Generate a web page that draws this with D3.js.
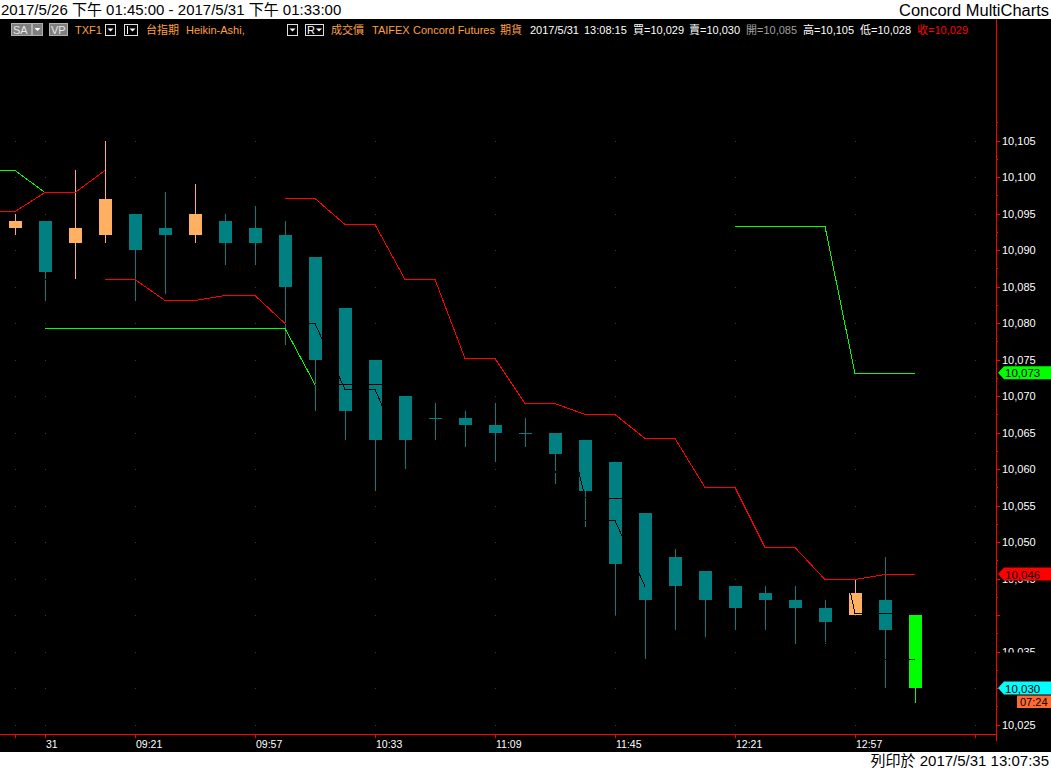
<!DOCTYPE html>
<html><head><meta charset="utf-8">
<script src="https://cdn.jsdelivr.net/npm/d3@7"></script>
<style>body{margin:0;background:#fff;overflow:hidden}svg{display:block}</style>
</head><body>
<svg id="c" width="1051" height="769"></svg>
<script>
// ---- data ----
const times = ["5/26 13:45","08:54","09:03","09:12","09:21","09:30","09:39","09:48","09:57","10:06","10:15","10:24","10:33","10:42","10:51","11:00","11:09","11:18","11:27","11:36","11:45","11:54","12:03","12:12","12:21","12:30","12:39","12:48","12:57","13:06","13:15"];
const open  = [10093,10094,10091,10092,10095,10093,10092,10094,10093,10092,10089,10082,10075,10070,10067,10067,10066,10065,10065,10064,10061,10054,10048,10046,10044,10043,10042,10041,10040,10042,10040];
const high  = [10095,10094,10101,10105,10095,10098,10099,10095,10096,10094,10089,10082,10075,10070,10069,10068,10069,10067,10065,10064,10061,10054,10049,10046,10044,10044,10044,10042,10045,10048,10040];
const low   = [10092,10083,10086,10091,10083,10084,10091,10088,10088,10077,10068,10064,10057,10060,10064,10063,10061,10063,10058,10052,10040,10034,10038,10037,10038,10038,10036,10036,10040,10030,10028];
const close = [10094,10087,10093,10097,10090,10092,10095,10091,10091,10085,10075,10068,10064,10064,10067,10066,10065,10065,10062,10057,10047,10042,10044,10042,10041,10042,10041,10039,10043,10038,10030];

// indicator lines, indexed from bar -1 to bar 30 (null = not drawn)
const N = null;
const redA   = [10095.3,10095.3,10098.0,10098.0,10101.0,N,N,N,N,N,N,N,N,N,N,N,N,N,N,N,N,N,N,N,N,N,N,N,N,N,N,N];
const greenA = [10101.0,10101.0,10098.0,N,N,N,N,N,N,N,N,N,N,N,N,N,N,N,N,N,N,N,N,N,N,N,N,N,N,N,N,N];
const redB   = [N,N,N,N,10086.0,10086.0,10083.2,10083.2,10083.9,10083.9,10080.0,N,N,N,N,N,N,N,N,N,N,N,N,N,N,N,N,N,N,N,N,N];
const greenB = [N,N,10079.3,10079.3,10079.3,10079.3,10079.3,10079.3,10079.3,10079.3,10079.3,10071.7,N,N,N,N,N,N,N,N,N,N,N,N,N,N,N,N,N,N,N,N];
const redC   = [N,N,N,N,N,N,N,N,N,N,10097.1,10097.1,10093.5,10093.5,10086.0,10086.0,10075.2,10075.2,10069.1,10069.1,10067.5,10067.5,10064.2,10064.2,10057.5,10057.5,10049.3,10049.3,10044.9,10044.9,10045.6,10045.6];
const greenC = [N,N,N,N,N,N,N,N,N,N,N,N,N,N,N,N,N,N,N,N,N,N,N,N,N,10093.3,10093.3,10093.3,10093.3,10073.2,10073.2,10073.2];
const blackA = [N,N,10086.0,10086.0,10086.0,N,N,N,N,N,10080.0,10080.0,10071.0,10071.0,10061.6,N,N,N,N,10073.4,10056.2,10056.0,10056.0,N,N,N,N,N,10059.2,10040.3,10040.3,10040.3];
const blackB = [N,N,N,N,N,N,N,N,N,N,N,10071.6,10071.6,10071.6,10071.6,N,N,N,N,10059.7,10053.0,10053.0,10044.0,N,N,N,N,N,10036.3,10035.2,10034.0,10034.0];

const tickIdx    = [0, 1, 4, 8, 12, 16, 20, 24, 28, 32];
const tickLabels = ["", "31", "09:21", "09:57", "10:33", "11:09", "11:45", "12:21", "12:57", ""];
const yTickVals  = [10025,10030,10035,10040,10045,10050,10055,10060,10065,10070,10075,10080,10085,10090,10095,10100,10105];
const hiddenYLabels = [10040, 10030];

const priceLabels = [
  {v: 10073.2, text: "10,073", fill: "#00ff00"},
  {v: 10045.6, text: "10,046", fill: "#ff0000"},
  {v: 10030,   text: "10,030", fill: "#00ffff"}
];

// ---- drawing ----
const FONT = "'Liberation Sans', Arial, 'Noto Sans CJK TC', sans-serif";
const svg = d3.select("#c").attr("font-family", FONT);
const x = d3.scaleLinear().domain([-0.5, 32.7]).range([0, 996]);
const y = d3.scaleLinear().domain([10105, 10025]).range([140.5, 724.5]);
const lineIdx = d3.range(-1, 31);
const defs = svg.append("defs");

svg.append("rect").attr("width",1051).attr("height",769).attr("fill","#fff");
svg.append("rect").attr("y",19).attr("width",1051).attr("height",733).attr("fill","#000");

// title strip
svg.append("text").attr("x",1).attr("y",15).attr("font-size",15).attr("fill","#000")
  .text("2017/5/26 下午 01:45:00 - 2017/5/31 下午 01:33:00");
svg.append("text").attr("x",1049).attr("y",15.5).attr("font-size",16).attr("fill","#000")
  .attr("text-anchor","end").attr("textLength",150).attr("lengthAdjust","spacingAndGlyphs")
  .text("Concord MultiCharts");
svg.append("text").attr("x",1049).attr("y",766).attr("font-size",15).attr("fill","#000")
  .attr("text-anchor","end").text("列印於 2017/5/31 13:07:35");

// grid dots
const gd = svg.append("g");
tickIdx.forEach(i => yTickVals.forEach(v => {
  gd.append("rect").attr("x", Math.round(x(i))).attr("y", Math.round(y(v)))
    .attr("width",1).attr("height",1).attr("fill","#0d5a0d");
}));

// candles
const bars = d3.range(open.length);
const col = i => i === open.length-1 ? "#00ff00" : (close[i] > open[i] ? "#ffb061" : "#008080");
const gc = svg.append("g").attr("shape-rendering","crispEdges");
gc.selectAll("line").data(bars).join("line")
  .attr("x1", i => x(i)+0.5).attr("x2", i => x(i)+0.5)
  .attr("y1", i => y(high[i])).attr("y2", i => y(low[i]))
  .attr("stroke", col).attr("stroke-width",1);
gc.selectAll("rect").data(bars).join("rect")
  .attr("x", i => x(i)-6).attr("width", 13)
  .attr("y", i => Math.round(y(Math.max(open[i],close[i]))))
  .attr("height", i => Math.max(1, Math.round(y(Math.min(open[i],close[i]))) - Math.round(y(Math.max(open[i],close[i])))))
  .attr("fill", col);

// indicator lines
const lineGen = d3.line().defined(d => d[1] != null).x(d => x(d[0])).y(d => Math.round(y(d[1]))+0.5);
const gl = svg.append("g").attr("fill","none").attr("shape-rendering","crispEdges");
[[blackA,"#000"],[blackB,"#000"],[greenA,"#00ff00"],[redA,"#ff0000"],[greenB,"#00ff00"],[redB,"#ff0000"],[redC,"#ff0000"],[greenC,"#00ff00"]]
 .forEach(([arr,c]) => {
   gl.append("path").datum(lineIdx.map((k,j) => [k, arr[j]])).attr("d", lineGen)
     .attr("stroke", c).attr("stroke-width",1);
 });

// axes
const ga = svg.append("g").attr("shape-rendering","crispEdges");
ga.append("line").attr("x1",0).attr("x2",997).attr("y1",734.5).attr("y2",734.5).attr("stroke","#ff0000");
ga.append("line").attr("x1",996.5).attr("x2",996.5).attr("y1",19).attr("y2",741).attr("stroke","#ff0000");
tickIdx.forEach((i,k) => {
  ga.append("line").attr("x1",x(i)+0.5).attr("x2",x(i)+0.5).attr("y1",734).attr("y2",738).attr("stroke","#ff0000");
  ga.append("text").attr("x",x(i)+1).attr("y",748).attr("font-size",10.5).attr("fill","#fff").text(tickLabels[k]);
});
const fmt = d3.format(",");
yTickVals.forEach(v => {
  const yy = Math.round(y(v))+0.5;
  ga.append("line").attr("x1",996).attr("x2",1000).attr("y1",yy).attr("y2",yy).attr("stroke","#ff0000");
  ga.append("line").attr("x1",996).attr("x2",998).attr("y1",Math.round(y(v+2.5))+0.5).attr("y2",Math.round(y(v+2.5))+0.5).attr("stroke","#ff0000");
  if (hiddenYLabels.includes(v)) return;
  const t = ga.append("text").attr("x",1002).attr("y",y(v)+4).attr("font-size",11).attr("fill","#fff").text(fmt(v));
  if (v === 10035) {
    defs.append("clipPath").attr("id","clip35").append("rect").attr("x",998).attr("y",640).attr("width",60).attr("height",y(v)+1-640);
    t.attr("clip-path","url(#clip35)");
  }
  if (v === 10045) {
    defs.append("clipPath").attr("id","clip45").append("rect").attr("x",998).attr("y",y(10045.6)+6.5).attr("width",60).attr("height",10);
    t.attr("clip-path","url(#clip45)");
  }
});

// price labels
const gp = svg.append("g");
priceLabels.forEach(p => {
  const yy = y(p.v);
  gp.append("path").attr("d", `M998,${yy} L1004,${yy-6.5} L1051,${yy-6.5} L1051,${yy+6.5} L1004,${yy+6.5} Z`).attr("fill", p.fill);
  gp.append("text").attr("x",1005).attr("y",yy+4.5).attr("font-size",11.5).attr("fill","#000").text(p.text);
});
gp.append("rect").attr("x",1017).attr("y",695.5).attr("width",34).attr("height",12.5).attr("fill","#ff6a33");
gp.append("text").attr("x",1020).attr("y",705.5).attr("font-size",11).attr("fill","#000").text("07:24");

// legend bar
const lg = svg.append("g").attr("font-size",11);
const tri = (cx, cy, c) => lg.append("path").attr("d",`M${cx-3},${cy-1.5} L${cx+3},${cy-1.5} L${cx},${cy+1.5} Z`).attr("fill",c);
lg.append("rect").attr("x",11.5).attr("y",23.5).attr("width",20).attr("height",12).attr("fill","#808080").attr("stroke","#b0b0b0");
lg.append("text").attr("x",13).attr("y",34).attr("fill","#e8e8e8").text("SA");
lg.append("rect").attr("x",32.5).attr("y",23.5).attr("width",10).attr("height",12).attr("fill","#808080").attr("stroke","#b0b0b0");
tri(37.5, 29.5, "#fff");
lg.append("rect").attr("x",49.5).attr("y",23.5).attr("width",18).attr("height",12).attr("fill","#808080").attr("stroke","#b0b0b0");
lg.append("text").attr("x",51).attr("y",34).attr("fill","#e8e8e8").text("VP");
lg.append("text").attr("x",75).attr("y",34).attr("fill","#ffa040").text("TXF1");
lg.append("rect").attr("x",105.5).attr("y",24.5).attr("width",10).attr("height",11).attr("fill","#000").attr("stroke","#e0e0e0");
tri(110.5, 30, "#fff");
lg.append("rect").attr("x",124.5).attr("y",24.5).attr("width",13).attr("height",11).attr("fill","#000").attr("stroke","#e0e0e0");
lg.append("line").attr("x1",127.5).attr("x2",127.5).attr("y1",26).attr("y2",34).attr("stroke","#fff");
tri(132.5, 30, "#fff");
lg.append("text").attr("x",146).attr("y",34).attr("fill","#ffa040").text("台指期");
lg.append("text").attr("x",186).attr("y",34).attr("fill","#ffa040").text("Heikin-Ashi,");
lg.append("rect").attr("x",287.5).attr("y",24.5).attr("width",10).attr("height",11).attr("fill","#000").attr("stroke","#e0e0e0");
tri(292.5, 30, "#fff");
lg.append("rect").attr("x",305.5).attr("y",24.5).attr("width",18).attr("height",11).attr("fill","#000").attr("stroke","#e0e0e0");
lg.append("text").attr("x",307).attr("y",34).attr("fill","#fff").text("R");
tri(319, 30, "#fff");
lg.append("text").attr("x",331).attr("y",34).attr("fill","#ffa040").text("成交價");
lg.append("text").attr("x",372).attr("y",34).attr("fill","#ffa040").text("TAIFEX");
lg.append("text").attr("x",413).attr("y",34).attr("fill","#ffa040").text("Concord Futures");
lg.append("text").attr("x",500).attr("y",34).attr("fill","#ffa040").text("期貨");
lg.append("text").attr("x",530).attr("y",34).attr("fill","#fff").text("2017/5/31");
lg.append("text").attr("x",584).attr("y",34).attr("fill","#fff").text("13:08:15");
lg.append("text").attr("x",633).attr("y",34).attr("fill","#fff").text("買=10,029");
lg.append("text").attr("x",689).attr("y",34).attr("fill","#fff").text("賣=10,030");
lg.append("text").attr("x",746).attr("y",34).attr("fill","#a0a0a0").text("開=10,085");
lg.append("text").attr("x",803).attr("y",34).attr("fill","#fff").text("高=10,105");
lg.append("text").attr("x",860).attr("y",34).attr("fill","#fff").text("低=10,028");
lg.append("text").attr("x",917).attr("y",34).attr("fill","#ff0000").text("收=10,029");
</script>
</body></html>
